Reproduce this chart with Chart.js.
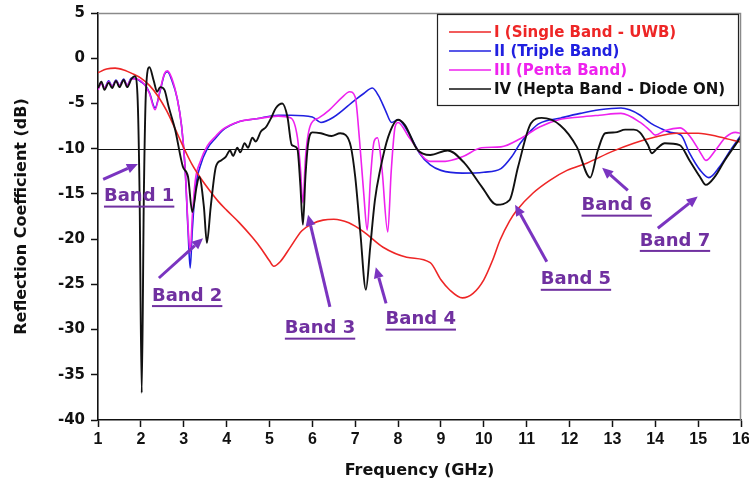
<!DOCTYPE html>
<html>
<head>
<meta charset="utf-8">
<script src="https://cdn.jsdelivr.net/npm/chart.js@4.4.1/dist/chart.umd.min.js"></script>
<style>
  html, body { margin: 0; padding: 0; background: #fff; }
  #wrap { width: 749px; height: 491px; }
</style>
</head>
<body>
<div id="wrap"><canvas id="c" width="749" height="491"></canvas></div>
<script>
// Reflection coefficient (dB) versus frequency (GHz) for the four antenna states.

const seriesNames = [
  'I (Single Band - UWB)',
  'II (Triple Band)',
  'III (Penta Band)',
  'IV (Hepta Band - Diode ON)'
];

// I : single band (UWB)
const freqI = [1.0,1.2,1.4,1.6,1.8,2.0,2.2,2.4,2.6,2.8,3.0,3.2,3.4,3.6,3.8,4.0,4.3,4.6,4.8,5.0,5.1,5.25,5.5,5.75,6.0,6.25,6.5,6.85,7.2,7.65,8.2,8.75,9.0,9.2,9.5,9.75,10.0,10.2,10.38,10.6,10.77,11.15,11.54,11.94,12.4,13.0,13.5,14.0,14.5,15.0,15.5,16.0];
const lossI = [-1.6,-1.2,-1.1,-1.3,-1.7,-2.2,-3.0,-4.2,-5.8,-7.8,-9.9,-11.8,-13.3,-14.6,-15.8,-16.8,-18.2,-19.8,-21.0,-22.4,-23.0,-22.5,-20.8,-19.1,-18.3,-17.9,-17.8,-18.2,-19.2,-20.9,-22.0,-22.6,-24.5,-25.6,-26.5,-26.0,-24.5,-22.4,-20.1,-18.0,-16.8,-14.9,-13.5,-12.4,-11.6,-10.3,-9.4,-8.7,-8.3,-8.3,-8.7,-9.3];

// II : triple band
const freqII = [1.0,1.08,1.15,1.25,1.33,1.42,1.5,1.6,1.68,1.78,1.9,2.0,2.1,2.2,2.33,2.45,2.55,2.62,2.72,2.85,2.95,3.03,3.1,3.15,3.2,3.27,3.38,3.55,3.75,3.9,4.3,4.7,5.2,5.5,6.0,6.2,6.5,7.0,7.2,7.4,7.55,7.7,7.85,8.0,8.25,8.5,8.75,9.0,9.5,10.0,10.4,10.65,10.85,11.1,11.3,11.8,12.25,12.7,13.2,13.4,13.65,13.9,14.1,14.35,14.6,14.8,15.05,15.25,15.5,15.75,16.0];
const lossII = [-3.4,-2.7,-3.3,-2.5,-3.1,-2.4,-3.0,-2.3,-3.0,-2.2,-2.3,-2.6,-3.0,-3.8,-5.5,-3.6,-1.8,-1.5,-2.4,-4.5,-7.5,-12.0,-19.0,-23.2,-19.0,-14.5,-12.0,-10.0,-8.8,-8.0,-7.0,-6.7,-6.3,-6.3,-6.5,-7.1,-6.5,-4.6,-3.9,-3.3,-4.2,-5.7,-7.1,-6.8,-8.3,-10.5,-11.8,-12.4,-12.7,-12.6,-12.2,-10.9,-9.4,-8.0,-7.2,-6.6,-6.1,-5.7,-5.5,-5.7,-6.3,-7.2,-7.7,-8.2,-8.5,-10.5,-12.4,-13.2,-12.0,-10.2,-8.5];

// III : penta band
const freqIII = [1.0,1.08,1.15,1.25,1.33,1.42,1.5,1.6,1.68,1.78,1.9,2.0,2.1,2.2,2.33,2.45,2.55,2.62,2.72,2.85,2.95,3.03,3.1,3.15,3.2,3.27,3.38,3.55,3.75,3.9,4.3,4.7,5.2,5.5,5.65,5.72,5.78,5.84,5.95,6.15,6.4,6.7,6.87,7.0,7.1,7.2,7.28,7.36,7.44,7.52,7.62,7.76,7.84,7.93,8.0,8.25,8.75,9.1,9.5,9.95,10.4,10.85,11.3,11.75,12.25,12.7,13.2,13.65,13.88,14.0,14.23,14.58,14.82,15.06,15.18,15.4,15.65,15.87,16.0];
const lossIII = [-3.5,-2.8,-3.3,-2.6,-3.1,-2.5,-3.0,-2.4,-3.0,-2.3,-2.3,-2.5,-3.0,-3.9,-5.7,-3.5,-1.7,-1.4,-2.2,-4.5,-7.5,-12.0,-18.5,-21.5,-17.5,-13.5,-11.5,-9.7,-8.6,-7.9,-7.0,-6.7,-6.4,-6.6,-8.7,-12.0,-16.0,-11.0,-7.5,-6.6,-5.7,-4.3,-3.7,-4.3,-9.0,-15.0,-19.0,-13.0,-9.2,-8.8,-12.0,-19.2,-12.5,-7.6,-7.1,-8.7,-11.4,-11.4,-10.9,-9.9,-9.8,-8.9,-7.6,-6.8,-6.5,-6.3,-6.1,-7.1,-8.0,-8.5,-8.0,-7.7,-8.7,-10.5,-11.3,-10.2,-8.7,-8.2,-8.3];

// IV : hepta band, diode ON
const freqIV = [1.0,1.08,1.15,1.25,1.33,1.42,1.5,1.6,1.68,1.78,1.86,1.92,1.97,2.02,2.07,2.12,2.2,2.3,2.38,2.45,2.55,2.65,2.8,2.98,3.1,3.2,3.3,3.36,3.47,3.54,3.63,3.75,3.87,3.98,4.08,4.15,4.25,4.32,4.42,4.5,4.6,4.68,4.8,4.92,5.05,5.15,5.3,5.42,5.52,5.65,5.72,5.78,5.84,5.9,6.0,6.2,6.45,6.65,6.78,6.9,7.0,7.12,7.25,7.35,7.46,7.58,7.77,8.0,8.16,8.45,8.75,9.16,9.55,9.95,10.3,10.6,10.8,11.1,11.35,11.78,12.17,12.48,12.66,12.83,13.06,13.3,13.5,13.64,13.83,13.92,14.06,14.22,14.57,14.8,15.04,15.18,15.39,15.62,16.0];
const lossIV = [-3.3,-2.6,-3.5,-2.7,-3.3,-2.5,-3.2,-2.4,-3.2,-2.3,-2.0,-4.0,-15.0,-37.0,-15.0,-3.5,-1.0,-2.5,-3.7,-3.2,-3.5,-5.4,-7.9,-12.0,-13.1,-17.0,-14.2,-13.1,-16.4,-20.4,-16.4,-12.0,-11.3,-10.9,-10.2,-10.8,-9.9,-10.4,-9.4,-9.9,-8.8,-9.2,-8.1,-7.6,-6.5,-5.5,-5.0,-6.5,-9.6,-10.0,-14.0,-18.4,-13.0,-9.5,-8.2,-8.3,-8.6,-8.3,-8.5,-9.8,-13.1,-19.3,-25.6,-20.9,-15.7,-12.4,-8.7,-6.8,-7.4,-10.1,-10.7,-10.2,-11.6,-14.2,-16.2,-15.7,-12.0,-7.2,-6.6,-7.4,-9.8,-13.2,-10.2,-8.3,-8.2,-7.9,-7.9,-8.2,-9.6,-10.5,-9.9,-9.4,-9.6,-11.3,-13.1,-14.0,-13.1,-11.3,-8.7];

// -10 dB reference level and axis ranges
const refLevel = -10;
const freqRange = [1, 16];
const dbRange = [-40, 5];

// Band annotations, placed in axis units (GHz, dB)
const bandNames = ['Band 1','Band 2','Band 3','Band 4','Band 5','Band 6','Band 7'];
const bandNotes = [
  { at: [1.96, -15.3], from: [1.12, -13.4], to: [1.93, -11.7] },
  { at: [3.08, -26.3], from: [2.42, -24.3], to: [3.45, -19.9] },
  { at: [6.18, -29.9], from: [6.41, -27.5], to: [5.90, -17.3] },
  { at: [8.53, -28.9], from: [7.72, -27.1], to: [7.48, -23.1] },
  { at: [12.15, -24.5], from: [11.47, -22.5], to: [10.73, -16.2] },
  { at: [13.10, -16.3], from: [13.36, -14.6], to: [12.76, -12.1] },
  { at: [14.46, -20.2], from: [14.06, -18.8], to: [14.99, -15.3] }
];

const colors = ['#ee2626', '#2020e0', '#ee22ee', '#111111'];
const drawOrder = [1, 3, 2, 0];

function points(f, v) { return f.map((x, i) => ({ x: x, y: v[i] })); }

const fontFamily = '"DejaVu Sans", "Liberation Sans", Arial, sans-serif';
const narrowFamily = '"Liberation Sans", Arial, sans-serif';

// Thin reference line at -10 dB plus the grey top/right frame
const framePlugin = {
  id: 'frame',
  beforeDatasetsDraw(chart) {
    const { ctx, chartArea, scales } = chart;
    const y = scales.y.getPixelForValue(refLevel);
    ctx.save();
    ctx.strokeStyle = '#111';
    ctx.lineWidth = 1;
    ctx.beginPath();
    ctx.moveTo(chartArea.left, Math.round(y) + 0.5);
    ctx.lineTo(chartArea.right, Math.round(y) + 0.5);
    ctx.stroke();
    ctx.restore();
  },
  afterDatasetsDraw(chart) {
    const { ctx, chartArea } = chart;
    ctx.save();
    ctx.strokeStyle = '#8a8a8a';
    ctx.lineWidth = 1.5;
    ctx.beginPath();
    ctx.moveTo(chartArea.left, chartArea.top + 0.5);
    ctx.lineTo(chartArea.right - 0.5, chartArea.top + 0.5);
    ctx.lineTo(chartArea.right - 0.5, chartArea.bottom);
    ctx.stroke();
    ctx.restore();
  }
};

// Boxed legend in the upper right corner of the plot
const legendPlugin = {
  id: 'boxLegend',
  afterDraw(chart) {
    const { ctx, chartArea } = chart;
    const w = 302, h = 92;
    const x0 = chartArea.right - w - 2, y0 = chartArea.top + 1;
    ctx.save();
    ctx.fillStyle = '#fff';
    ctx.fillRect(x0, y0, w, h);
    ctx.strokeStyle = '#222';
    ctx.lineWidth = 1.2;
    ctx.strokeRect(x0 + 0.5, y0 + 0.5, w - 1, h - 1);
    ctx.font = 'bold 15px ' + fontFamily;
    ctx.textBaseline = 'middle';
    ctx.textAlign = 'left';
    chart.data.datasets.forEach((ds, i) => {
      const yy = y0 + 18 + i * 19;
      ctx.strokeStyle = ds.borderColor;
      ctx.lineWidth = 1.6;
      ctx.beginPath();
      ctx.moveTo(x0 + 12, yy);
      ctx.lineTo(x0 + 54, yy);
      ctx.stroke();
      ctx.fillStyle = ds.borderColor;
      ctx.fillText(ds.label, x0 + 57, yy + 1);
    });
    ctx.restore();
  }
};

// Underlined band labels with arrows pointing at each resonance
const bandPlugin = {
  id: 'bands',
  afterDatasetsDraw(chart) {
    const { ctx, scales } = chart;
    const px = p => [scales.x.getPixelForValue(p[0]), scales.y.getPixelForValue(p[1])];
    ctx.save();
    bandNotes.forEach((b, i) => {
      const [x1, y1] = px(b.from);
      const [x2, y2] = px(b.to);
      const ang = Math.atan2(y2 - y1, x2 - x1);
      const head = 11, half = 5;
      const bx = x2 - head * Math.cos(ang), by = y2 - head * Math.sin(ang);
      ctx.strokeStyle = '#7a34c0';
      ctx.fillStyle = '#7a34c0';
      ctx.lineWidth = 3;
      ctx.beginPath();
      ctx.moveTo(x1, y1);
      ctx.lineTo(bx, by);
      ctx.stroke();
      ctx.beginPath();
      ctx.moveTo(x2, y2);
      ctx.lineTo(bx + half * Math.sin(ang), by - half * Math.cos(ang));
      ctx.lineTo(bx - half * Math.sin(ang), by + half * Math.cos(ang));
      ctx.closePath();
      ctx.fill();

      const [tx, ty] = px(b.at);
      ctx.font = 'bold 18px ' + fontFamily;
      ctx.textAlign = 'center';
      ctx.textBaseline = 'middle';
      ctx.fillStyle = '#7030a0';
      ctx.fillText(bandNames[i], tx, ty);
      const tw = ctx.measureText(bandNames[i]).width;
      ctx.fillRect(tx - tw / 2, ty + 9, tw, 2);
    });
    ctx.restore();
  }
};

const datasets = [
  { data: points(freqI, lossI) },
  { data: points(freqII, lossII) },
  { data: points(freqIII, lossIII) },
  { data: points(freqIV, lossIV) }
].map((d, i) => Object.assign(d, {
  label: seriesNames[i],
  borderColor: colors[i],
  backgroundColor: colors[i],
  borderWidth: i === 3 ? 1.9 : 1.6,
  pointRadius: 0,
  fill: false,
  cubicInterpolationMode: 'monotone',
  order: drawOrder[i]
}));

new Chart(document.getElementById('c'), {
  type: 'line',
  data: { datasets: datasets },
  options: {
    responsive: false,
    animation: false,
    layout: { padding: { top: 13, right: 8, left: 0, bottom: 0 } },
    plugins: {
      legend: { display: false },
      tooltip: { enabled: false }
    },
    scales: {
      x: {
        type: 'linear',
        min: freqRange[0],
        max: freqRange[1],
        afterFit: s => { s.height = 71; s.paddingRight = 0; s.paddingLeft = 0; },
        ticks: {
          stepSize: 1,
          color: '#111',
          padding: 3,
          font: { family: narrowFamily, weight: 'bold', size: 16 }
        },
        grid: { drawOnChartArea: false, drawTicks: true, tickLength: 7, tickColor: '#111', tickWidth: 1.5 },
        border: { color: '#111', width: 1.6 },
        title: {
          display: true,
          text: 'Frequency (GHz)',
          color: '#111',
          padding: { top: 0, bottom: 11 },
          font: { family: fontFamily, weight: 'bold', size: 16 }
        }
      },
      y: {
        min: dbRange[0],
        max: dbRange[1],
        afterFit: s => { s.width = 98; s.paddingTop = 0; s.paddingBottom = 0; },
        ticks: {
          stepSize: 5,
          color: '#111',
          padding: 6,
          font: { family: fontFamily, weight: 'bold', size: 15 }
        },
        grid: { drawOnChartArea: false, drawTicks: true, tickLength: 7, tickColor: '#111', tickWidth: 1.5 },
        border: { color: '#111', width: 1.6 },
        title: {
          display: true,
          text: 'Reflection Coefficient (dB)',
          color: '#111',
          padding: { top: 12, bottom: 0 },
          font: { family: fontFamily, weight: 'bold', size: 16 }
        }
      }
    }
  },
  plugins: [framePlugin, bandPlugin, legendPlugin]
});
</script>
</body>
</html>
